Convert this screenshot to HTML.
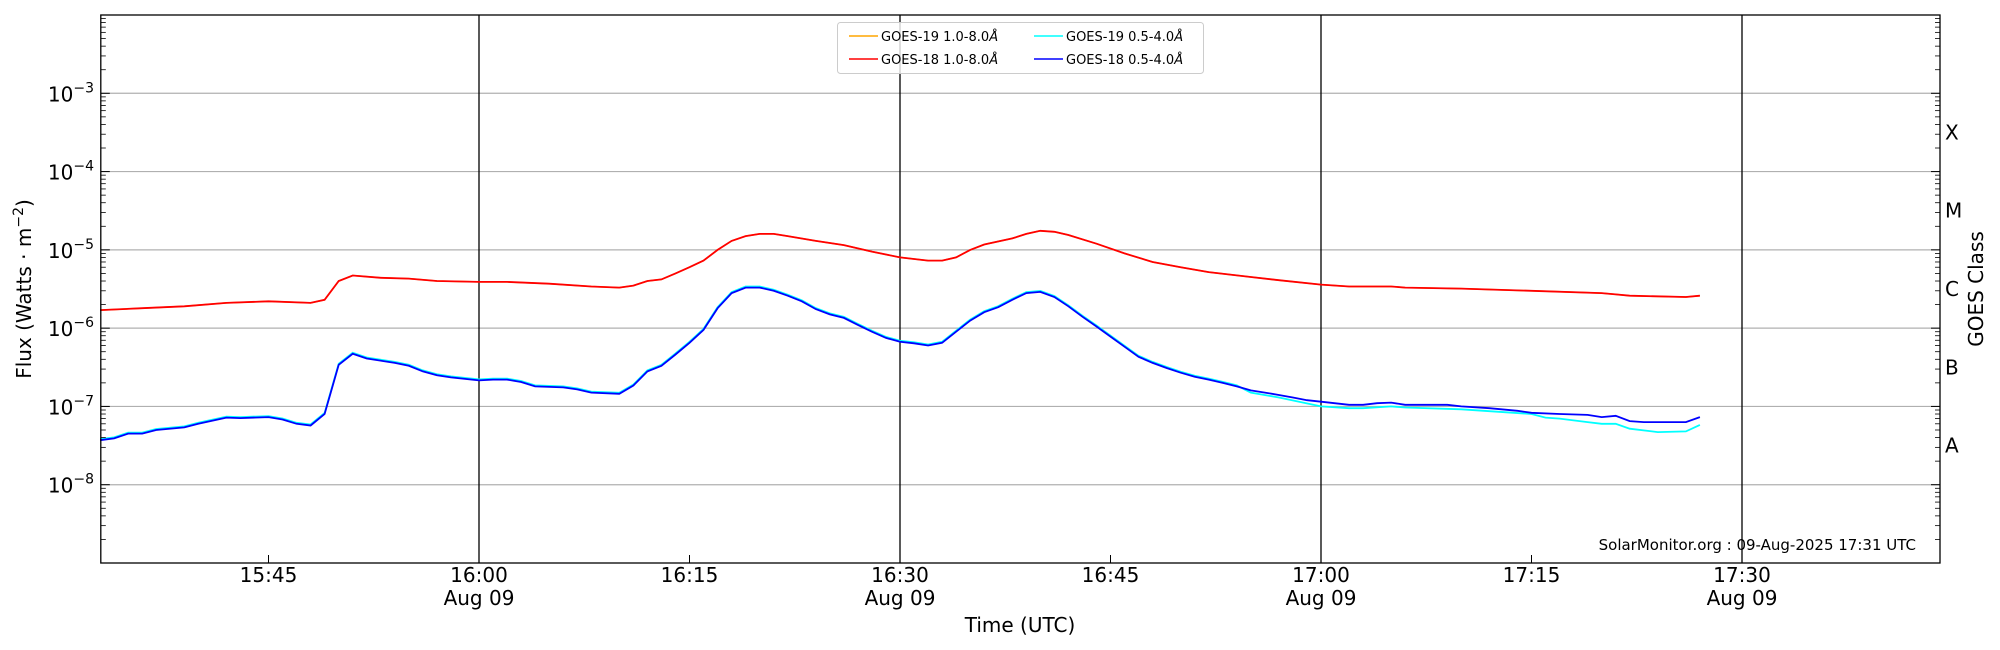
<!DOCTYPE html>
<html><head><meta charset="utf-8"><style>
html,body{margin:0;padding:0;background:#fff;}
svg{display:block;font-family:"DejaVu Sans","Liberation Sans",sans-serif;}
</style></head><body>
<svg id="c" width="2000" height="650" viewBox="0 0 2000 650" xmlns="http://www.w3.org/2000/svg"></svg>
<script>
const L=100.8,R=1940,T=15,B=563;
const t0=15*60+33;
const pxmin=210.5/15;
const x0=479-(16*60-t0)*pxmin;
function X(m){return x0+(m-t0)*pxmin;}
function Y(v){return B-(Math.log10(v)+9)*(B-T)/7;}
function tm(s){const p=s.split(':');return +p[0]*60+ +p[1];}
const red=[["15:33",1.7e-6],["15:36",1.8e-6],["15:39",1.9e-6],["15:42",2.1e-6],["15:45",2.2e-6],["15:48",2.1e-6],["15:49",2.3e-6],["15:50",4e-6],["15:51",4.7e-6],["15:53",4.4e-6],["15:55",4.3e-6],["15:57",4.0e-6],["16:00",3.9e-6],["16:02",3.9e-6],["16:05",3.7e-6],["16:08",3.4e-6],["16:10",3.3e-6],["16:11",3.5e-6],["16:12",4e-6],["16:13",4.2e-6],["16:14",5e-6],["16:15",6e-6],["16:16",7.3e-6],["16:17",1e-5],["16:18",1.3e-5],["16:19",1.5e-5],["16:20",1.6e-5],["16:21",1.6e-5],["16:22",1.5e-5],["16:24",1.3e-5],["16:26",1.15e-5],["16:28",9.5e-6],["16:30",8e-6],["16:32",7.3e-6],["16:33",7.3e-6],["16:34",8e-6],["16:35",1e-5],["16:36",1.17e-5],["16:38",1.4e-5],["16:39",1.6e-5],["16:40",1.75e-5],["16:41",1.7e-5],["16:42",1.55e-5],["16:44",1.2e-5],["16:46",9e-6],["16:48",7e-6],["16:50",6e-6],["16:52",5.2e-6],["16:55",4.5e-6],["16:57",4.1e-6],["17:00",3.6e-6],["17:02",3.4e-6],["17:05",3.4e-6],["17:06",3.3e-6],["17:10",3.2e-6],["17:15",3.0e-6],["17:20",2.8e-6],["17:21",2.7e-6],["17:22",2.6e-6],["17:26",2.5e-6],["17:27",2.6e-6]];
const blue=[["15:33",3.7e-8],["15:34",3.9e-8],["15:35",4.5e-8],["15:36",4.5e-8],["15:37",5e-8],["15:39",5.4e-8],["15:40",6e-8],["15:42",7.2e-8],["15:43",7.1e-8],["15:45",7.3e-8],["15:46",6.8e-8],["15:47",6e-8],["15:48",5.7e-8],["15:49",8e-8],["15:50",3.4e-7],["15:51",4.7e-7],["15:52",4.1e-7],["15:54",3.6e-7],["15:55",3.3e-7],["15:56",2.8e-7],["15:57",2.5e-7],["15:58",2.35e-7],["16:00",2.15e-7],["16:01",2.2e-7],["16:02",2.2e-7],["16:03",2.05e-7],["16:04",1.8e-7],["16:06",1.75e-7],["16:07",1.65e-7],["16:08",1.5e-7],["16:10",1.45e-7],["16:11",1.85e-7],["16:12",2.8e-7],["16:13",3.3e-7],["16:14",4.6e-7],["16:15",6.5e-7],["16:16",9.5e-7],["16:17",1.8e-6],["16:18",2.8e-6],["16:19",3.3e-6],["16:20",3.3e-6],["16:21",3.0e-6],["16:22",2.6e-6],["16:23",2.2e-6],["16:24",1.75e-6],["16:25",1.5e-6],["16:26",1.35e-6],["16:27",1.1e-6],["16:28",9e-7],["16:29",7.5e-7],["16:30",6.7e-7],["16:31",6.4e-7],["16:32",6e-7],["16:33",6.5e-7],["16:34",9e-7],["16:35",1.25e-6],["16:36",1.6e-6],["16:37",1.85e-6],["16:38",2.3e-6],["16:39",2.8e-6],["16:40",2.9e-6],["16:41",2.5e-6],["16:42",1.9e-6],["16:43",1.4e-6],["16:44",1.05e-6],["16:45",7.8e-7],["16:46",5.8e-7],["16:47",4.3e-7],["16:48",3.6e-7],["16:49",3.1e-7],["16:50",2.7e-7],["16:51",2.4e-7],["16:52",2.2e-7],["16:53",2e-7],["16:54",1.8e-7],["16:55",1.6e-7],["16:56",1.5e-7],["16:57",1.4e-7],["16:58",1.3e-7],["16:59",1.2e-7],["17:00",1.15e-7],["17:02",1.05e-7],["17:03",1.05e-7],["17:04",1.1e-7],["17:05",1.12e-7],["17:06",1.05e-7],["17:09",1.05e-7],["17:10",1e-7],["17:12",9.5e-8],["17:14",8.8e-8],["17:15",8.3e-8],["17:17",8e-8],["17:19",7.8e-8],["17:20",7.3e-8],["17:21",7.6e-8],["17:22",6.5e-8],["17:23",6.3e-8],["17:26",6.3e-8],["17:27",7.3e-8]];
const cyanTail=[["16:55",1.5e-7],["16:57",1.3e-7],["17:00",1.0e-7],["17:02",9.5e-8],["17:03",9.5e-8],["17:05",1e-7],["17:06",9.7e-8],["17:10",9.2e-8],["17:15",8.0e-8],["17:16",7.2e-8],["17:17",7e-8],["17:19",6.3e-8],["17:20",6e-8],["17:21",6e-8],["17:22",5.2e-8],["17:24",4.7e-8],["17:26",4.8e-8],["17:27",5.8e-8]];
const cyan=blue.filter(p=>tm(p[0])<tm("16:55")).map(p=>[p[0],p[1]*1.03]).concat(cyanTail);
function pts(a){return a.map(p=>X(tm(p[0])).toFixed(1)+","+Y(p[1]).toFixed(1)).join(" ");}
let s="";
for(let e=-8;e<=-3;e++){const y=Y(Math.pow(10,e));s+=`<line x1="${L}" x2="${R}" y1="${y}" y2="${y}" stroke="#b0b0b0" stroke-width="1.2"/>`;}
["16:00","16:30","17:00","17:30"].forEach(t=>{const x=X(tm(t));s+=`<line x1="${x}" x2="${x}" y1="${T}" y2="${B}" stroke="#000" stroke-width="1.3"/>`;});
s+=`<polyline points="${pts(red)}" fill="none" stroke="#ffa500" stroke-width="1.5"/>`;
s+=`<polyline points="${pts(red)}" fill="none" stroke="#ff0000" stroke-width="1.8"/>`;
s+=`<polyline points="${pts(cyan)}" fill="none" stroke="#00ffff" stroke-width="1.8"/>`;
s+=`<polyline points="${pts(blue)}" fill="none" stroke="#0000ff" stroke-width="1.8"/>`;
for(let e=-9;e<=-2;e++){
  const y=Y(Math.pow(10,e));
  if(e>-9&&e<-2){s+=`<line x1="${L}" x2="${L+9}" y1="${y}" y2="${y}" stroke="#000"/><line x1="${R}" x2="${R-9}" y1="${y}" y2="${y}" stroke="#000"/>`;}
  if(e<-2)for(let k=2;k<=9;k++){const yy=Y(k*Math.pow(10,e));s+=`<line x1="${L}" x2="${L+5}" y1="${yy}" y2="${yy}" stroke="#000" stroke-width="0.8"/><line x1="${R}" x2="${R-5}" y1="${yy}" y2="${yy}" stroke="#000" stroke-width="0.8"/>`;}
}
["15:45","16:00","16:15","16:30","16:45","17:00","17:15","17:30"].forEach(t=>{const x=X(tm(t));s+=`<line x1="${x}" x2="${x}" y1="${B}" y2="${B-8}" stroke="#000"/>`;
 s+=`<text x="${x}" y="582" font-size="20" text-anchor="middle">${t}</text>`;
 if(t.endsWith(":00")||t.endsWith(":30"))s+=`<text x="${x}" y="605" font-size="20" text-anchor="middle">Aug 09</text>`;});
for(let e=-8;e<=-3;e++){const y=Y(Math.pow(10,e));s+=`<text x="94" y="${y+8}" font-size="20" text-anchor="end">10<tspan font-size="14" dy="-9">−${-e}</tspan></text>`;}
[["X",-3.5],["M",-4.5],["C",-5.5],["B",-6.5],["A",-7.5]].forEach(c=>{const y=Y(Math.pow(10,c[1]));s+=`<text x="1945" y="${y+7}" font-size="20">${c[0]}</text>`;});
s+=`<text transform="translate(31,289) rotate(-90)" font-size="20" text-anchor="middle">Flux (Watts · m<tspan font-size="14" dy="-8">−2</tspan><tspan dy="8">)</tspan></text>`;
s+=`<text transform="translate(1983,289) rotate(-90)" font-size="20" text-anchor="middle">GOES Class</text>`;
s+=`<text x="1020" y="632" font-size="20" text-anchor="middle">Time (UTC)</text>`;
s+=`<text x="1916" y="550" font-size="15" text-anchor="end">SolarMonitor.org : 09-Aug-2025 17:31 UTC</text>`;
s+=`<rect x="837.5" y="22.5" width="366" height="51" rx="3" fill="#fff" fill-opacity="0.8" stroke="#ccc"/>`;
[["#ffa500",849,36,"GOES-19 1.0-8.0"],["#ff0000",849,59,"GOES-18 1.0-8.0"],["#00ffff",1034,36,"GOES-19 0.5-4.0"],["#0000ff",1034,59,"GOES-18 0.5-4.0"]].forEach(l=>{
 s+=`<line x1="${l[1]}" x2="${l[1]+29}" y1="${l[2]}" y2="${l[2]}" stroke="${l[0]}" stroke-width="1.5"/>`;
 s+=`<text x="${l[1]+32}" y="${l[2]+5}" font-size="13">${l[3]}<tspan font-style="italic">Å</tspan></text>`;});
s+=`<rect x="${L}" y="${T}" width="${R-L}" height="${B-T}" fill="none" stroke="#000" stroke-width="1.3"/>`;
document.getElementById("c").innerHTML=s;
</script>
</body></html>
